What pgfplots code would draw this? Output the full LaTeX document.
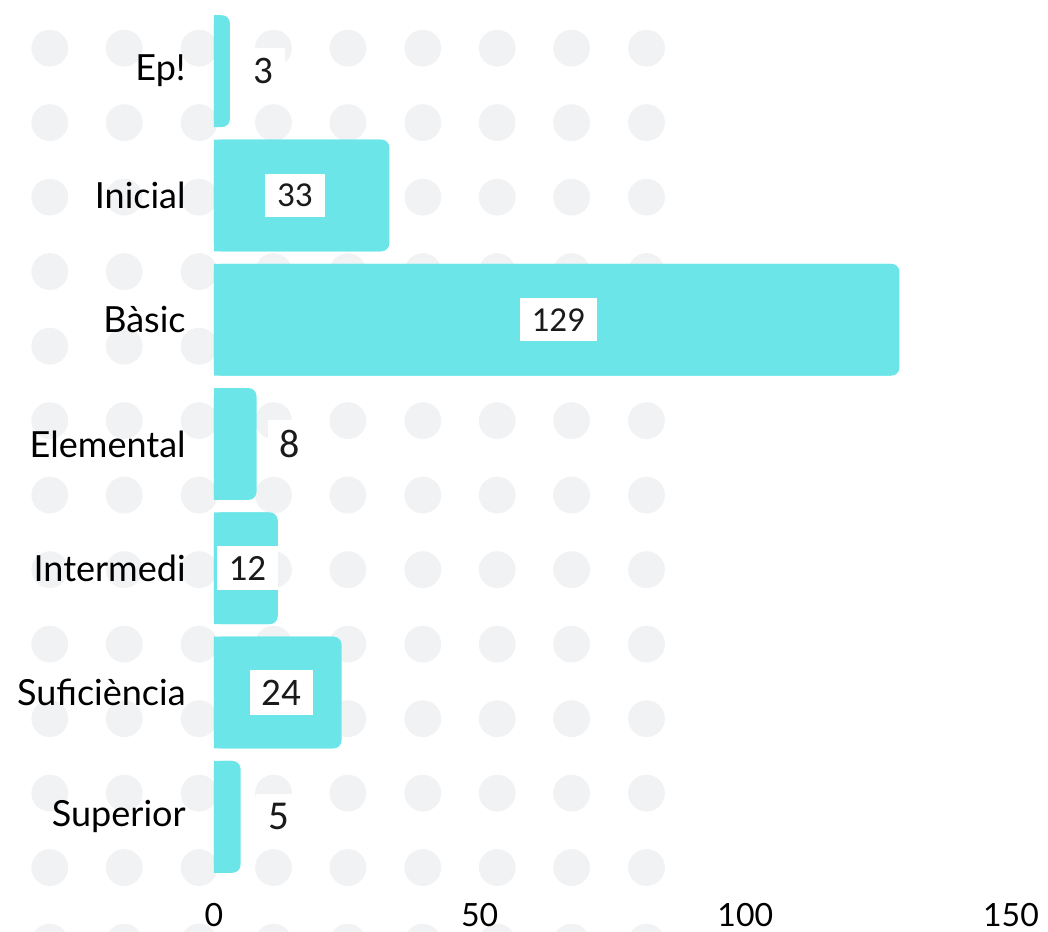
\documentclass[border=0pt]{standalone}
\usepackage{fontspec}
\setmainfont{Lato}
\newfontfamily\carlito{Carlito}
\usepackage{pgfplots}
\usepackage{pgfplotstable}
\pgfplotsset{compat=1.18}
\usetikzlibrary{calc}

\definecolor{barc}{HTML}{6CE5E8}
\definecolor{dotc}{HTML}{F1F2F4}
\definecolor{valc}{HTML}{1A1A1A}

% idx = category row, v = value, lx = where the value label sits, fs = label size (pt)
\pgfplotstableread{
idx v   lx   fs
0   3   9.3  19.5
1   33  15.2 17.5
2   129 64.8 17.5
3   8   14.3 20
4   12  6.3  18.5
5   24  12.7 19.5
6   5   12.2 20.5
}\levels

\pgfplotsset{frame/.style={
    scale only axis,
    width=398.5pt, height=435pt,
    xmin=0, xmax=150,
    ymin=-0.5, ymax=6.5,
    y dir=reverse,
    clip=false}}

\begin{document}
\begin{tikzpicture}
% background dot pattern, in its own axis so it stays behind everything
\begin{axis}[frame, hide axis]
\pgfplotsinvokeforeach{-0.185,0.414,1.014,1.613,2.213,2.812,3.411,4.011,4.610,5.210,5.809,6.408,7.008}{
  \addplot[only marks, mark=*, mark size=9pt, color=dotc]
    coordinates {(-30.9,#1) (-16.9,#1) (-2.8,#1) (11.2,#1) (25.2,#1) (39.3,#1) (53.3,#1) (67.3,#1) (81.4,#1)};
}
\end{axis}
\begin{axis}[
    frame,
    name=ax,
    axis line style={draw=none},
    major tick length=0pt,
    xtick={0,50,100,150},
    ytick={0,...,6},
    yticklabels={Ep!,Inicial,{Bàsic\hspace{4.5pt}},Elemental,Intermedi,Suficiència,Superior},
    /pgf/number format/assume math mode=true,
    xticklabel style={font=\fontsize{16}{19}\selectfont, anchor=center, yshift=-18pt},
    yticklabel style={font=\fontsize{18}{22}\selectfont, anchor=east, inner sep=0pt, xshift=-14pt},
]
% bars: rounded on the right, squared off on the left
\addplot[xbar, bar width=0.9, bar shift=0pt, fill=barc, draw=none, rounded corners=4pt]
  table[x=v, y=idx] {\levels};
\addplot[xbar, bar width=0.9, bar shift=0pt, fill=barc, draw=none]
  table[x expr=\thisrow{v}-1.6, y=idx] {\levels};
% value labels
\addplot[draw=none, mark=none, nodes near coords, point meta=explicit symbolic,
  visualization depends on={\thisrow{fs} \as \fs},
  every node near coord/.style={anchor=center, fill=white, text=valc,
    inner xsep=6pt, inner ysep=5pt, font=\carlito\fontsize{\fs}{\fs}\selectfont}]
  table[x=lx, y=idx, meta=v] {\levels};
\end{axis}
\pgfresetboundingbox
\path[use as bounding box] ($(ax.south west)+(-107pt,-26.5pt)$) rectangle ($(ax.north east)+(18.5pt,4.5pt)$);
\end{tikzpicture}
\end{document}
